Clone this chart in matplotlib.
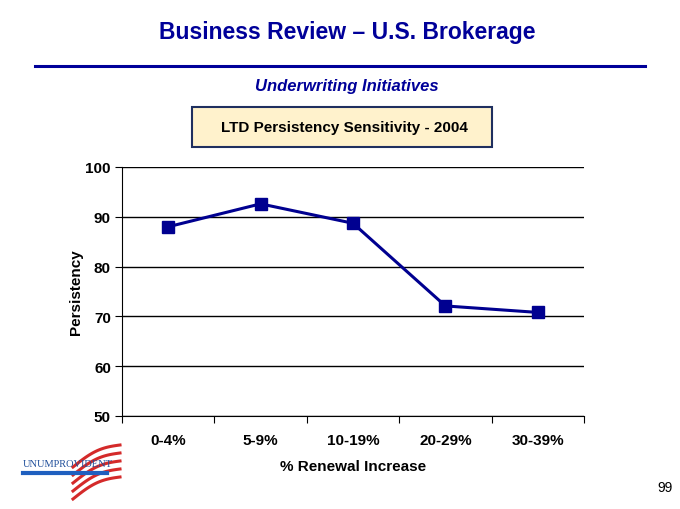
import numpy as np
import matplotlib.pyplot as plt
from matplotlib.patches import Rectangle
from matplotlib.lines import Line2D

plt.rcParams['font.family'] = ['Liberation Sans', 'DejaVu Sans']

# Data
categories = ['0-4%', '5-9%', '10-19%', '20-29%', '30-39%']
persistency = [88.0, 92.6, 88.7, 72.1, 70.8]
y_ticks = [50, 60, 70, 80, 90, 100]

navy = '#000099'
line_col = '#000090'

fig = plt.figure(figsize=(6.8, 5.1), dpi=100)
W, H = 680, 510

def fx(px):
    return px / W

def fy(py):
    return 1 - py / H

# Header
fig.text(fx(347), fy(33), 'Business Review \u2013 U.S. Brokerage', ha='center', va='center',
         fontsize=16.5, fontweight='bold', color=navy)
fig.add_artist(Line2D([fx(35), fx(645)], [fy(67), fy(67)], color=navy, lw=2.2))
fig.text(fx(347), fy(87), 'Underwriting Initiatives', ha='center', va='center',
         fontsize=12, fontweight='bold', fontstyle='italic', color=navy)
fig.add_artist(Rectangle((fx(192), fy(148)), fx(300), (148 - 108) / H,
                         facecolor='#FFF2CC', edgecolor='#1F2F5F', lw=1.5,
                         transform=fig.transFigure))
fig.text(fx(344), fy(128), 'LTD Persistency Sensitivity - 2004', ha='center', va='center',
         fontsize=11, fontweight='bold', color='black')

# Chart
ax = fig.add_axes([fx(122), fy(417), fx(584 - 122), (417 - 168) / H])
x = np.arange(len(categories))
ax.plot(x, persistency, color=line_col, lw=2.2, marker='s', markersize=9,
        markerfacecolor=line_col, markeredgecolor=line_col, zorder=3)
ax.set_xlim(-0.5, len(categories) - 0.5)
ax.set_ylim(50, 100)
ax.set_yticks(y_ticks)
ax.set_yticklabels([str(v) for v in y_ticks], fontsize=11, fontweight='bold')
ax.set_xticks(np.arange(-0.5, len(categories), 1.0))
ax.set_xticklabels([])
ax.set_xticks(x, minor=True)
ax.set_xticklabels(categories, minor=True, fontsize=11, fontweight='bold')
ax.tick_params(axis='x', which='minor', length=0, pad=12)
ax.tick_params(axis='x', which='major', length=5, direction='out', color='black')
ax.tick_params(axis='y', length=5, direction='out', pad=3)
ax.grid(axis='y', color='black', lw=1)
for s in ['top', 'right']:
    ax.spines[s].set_visible(False)
ax.spines['left'].set_color('black')
ax.spines['bottom'].set_color('black')
ax.set_ylabel('Persistency', fontsize=11, fontweight='bold', labelpad=2)
ax.set_xlabel('% Renewal Increase', fontsize=11, fontweight='bold', labelpad=9)
ax.set_axisbelow(True)

# Logo approximation
t = np.linspace(0, 1, 30)
for k in range(5):
    xs = 73 + 47 * t
    ys = 500 - 8 * k - 5 * np.sin(np.pi * t) - 22 * t
    fig.add_artist(Line2D(fx(xs), fy(ys), color='#D42A2A', lw=2.2))
fig.text(fx(23), fy(465), 'UNUMPROVIDENT', fontsize=7.5, family='Liberation Serif',
         color='#1F4E9A', va='center', ha='left')
fig.add_artist(Line2D([fx(23), fx(107)], [fy(474), fy(474)], color='#1F5FBF', lw=3))

fig.text(fx(665), fy(488), '99', ha='center', va='center', fontsize=10, color='black')

fig.savefig('out.png', dpi=100)
